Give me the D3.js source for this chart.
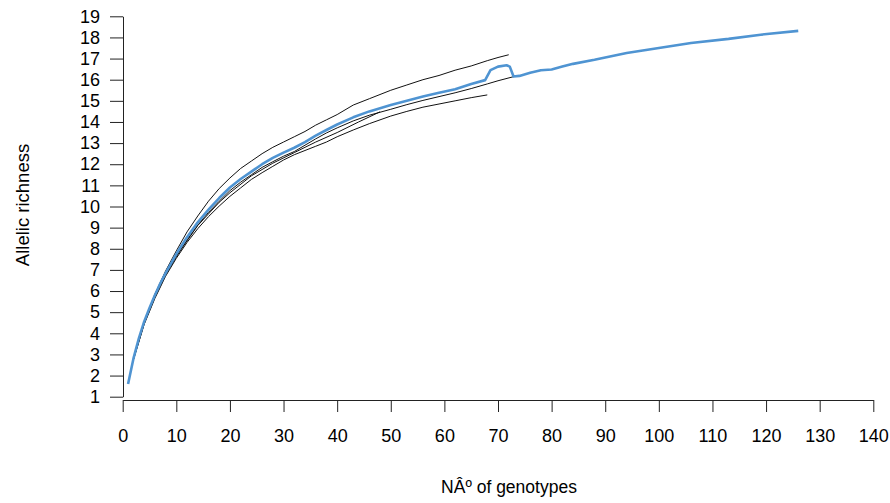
<!DOCTYPE html>
<html>
<head>
<meta charset="utf-8">
<script src="https://cdn.jsdelivr.net/npm/d3@7"></script>
<style>
  body { margin: 0; background: #fff; }
  text { font-family: "Liberation Sans", Arial, sans-serif; }
</style>
</head>
<body>
<div id="viz"></div>
<script>
const width = 890;
const height = 503;

// axis ticks
const xTicks = [0, 10, 20, 30, 40, 50, 60, 70, 80, 90, 100, 110, 120, 130, 140];
const yTicks = [1, 2, 3, 4, 5, 6, 7, 8, 9, 10, 11, 12, 13, 14, 15, 16, 17, 18, 19];

// pooled curve (blue)
const allN = [1, 2, 3, 4, 5, 6, 7, 8, 9, 10, 12, 14, 16, 18, 20, 22, 24, 26, 28, 30, 32, 34, 36, 38, 40, 43, 46, 50, 53, 56, 59, 62, 65, 67.6, 68.6, 70, 71.6, 72.2, 72.9, 74, 76, 78, 80, 82, 84, 88, 94, 100, 106, 113, 119, 126];
const allR = [1.6, 2.8, 3.75, 4.55, 5.2, 5.8, 6.35, 6.85, 7.3, 7.75, 8.55, 9.25, 9.85, 10.4, 10.9, 11.3, 11.65, 12.0, 12.3, 12.55, 12.78, 13.05, 13.35, 13.62, 13.88, 14.22, 14.5, 14.8, 15.0, 15.2, 15.38, 15.55, 15.8, 15.98, 16.45, 16.62, 16.68, 16.62, 16.15, 16.18, 16.33, 16.45, 16.48, 16.62, 16.75, 16.94, 17.26, 17.5, 17.74, 17.93, 18.13, 18.31];

// single populations (black)
const pop1N = [2, 4, 6, 8, 10, 12, 14, 16, 18, 20, 22, 24, 26, 28, 30, 32, 34, 36, 38, 40, 43, 46, 50, 53, 56, 59, 62, 65, 68, 70, 72];
const pop1R = [2.8, 4.55, 5.85, 6.95, 7.9, 8.8, 9.55, 10.25, 10.85, 11.35, 11.8, 12.15, 12.5, 12.8, 13.05, 13.3, 13.55, 13.85, 14.1, 14.35, 14.8, 15.1, 15.5, 15.75, 16.0, 16.2, 16.45, 16.65, 16.9, 17.05, 17.18];

const pop2N = [2, 4, 6, 8, 10, 12, 14, 16, 18, 20, 22, 24, 26, 28, 30, 32, 34, 36, 38, 40, 43, 46, 50, 53, 56, 59, 62, 65, 68, 70, 73];
const pop2R = [2.75, 4.45, 5.7, 6.75, 7.62, 8.42, 9.12, 9.72, 10.25, 10.75, 11.15, 11.5, 11.85, 12.12, 12.38, 12.6, 12.9, 13.2, 13.48, 13.72, 14.05, 14.32, 14.6, 14.82, 15.02, 15.2, 15.38, 15.58, 15.8, 15.95, 16.15];

const pop3N = [2, 4, 6, 8, 10, 12, 14, 16, 18, 20, 22, 24, 26, 28, 30, 32, 34, 36, 38, 40, 43, 46, 50, 53, 56, 59, 62, 65, 68];
const pop3R = [2.75, 4.42, 5.65, 6.7, 7.55, 8.3, 8.95, 9.52, 10.02, 10.48, 10.88, 11.28, 11.6, 11.9, 12.2, 12.45, 12.65, 12.85, 13.05, 13.3, 13.62, 13.92, 14.28, 14.5, 14.7, 14.85, 15.0, 15.15, 15.28];

const pop4N = [2, 4, 6, 8, 10, 14, 18, 20, 24, 28, 32, 36, 40, 44, 48];
const pop4R = [2.78, 4.5, 5.75, 6.8, 7.65, 9.1, 10.2, 10.65, 11.45, 12.05, 12.55, 13.05, 13.5, 14.0, 14.48];

const svg = d3.select('#viz')
  .append('svg')
    .attr('width', width)
    .attr('height', height);

const x = d3.scaleLinear().domain([0, 140]).range([122.7, 873.3]);
const y = d3.scaleLinear().domain([1, 19]).range([396.7, 16.3]);

const line = d3.line()
  .x(d => x(d[0]))
  .y(d => y(d[1]));

const pops = [[pop1N, pop1R], [pop2N, pop2R], [pop3N, pop3R], [pop4N, pop4R]];
pops.forEach(p => {
  svg.append('path')
    .datum(d3.zip(p[0], p[1]))
    .attr('fill', 'none')
    .attr('stroke', '#111')
    .attr('stroke-width', 1)
    .attr('d', line);
});

// blue pooled curve, drawn over the populations
svg.append('path')
  .datum(d3.zip(allN, allR))
  .attr('fill', 'none')
  .attr('stroke', '#4f94d2')
  .attr('stroke-width', 2.6)
  .attr('stroke-linejoin', 'round')
  .attr('d', line);

// axes
const yAxis = svg.append('g')
  .attr('transform', 'translate(123,0)')
  .call(d3.axisLeft(y).tickValues(yTicks).tickSize(13).tickSizeOuter(0).tickPadding(10));

const xAxis = svg.append('g')
  .attr('transform', 'translate(0,400)')
  .call(d3.axisBottom(x).tickValues(xTicks).tickSize(12).tickSizeOuter(0).tickPadding(17));

[yAxis, xAxis].forEach(g => {
  g.selectAll('text')
    .attr('font-size', 18)
    .attr('font-family', '"Liberation Sans", Arial, sans-serif')
    .attr('fill', '#000');
  g.selectAll('line').attr('stroke', '#222');
  g.select('.domain').attr('stroke', '#222');
});

svg.append('text')
  .attr('x', 509)
  .attr('y', 493)
  .attr('text-anchor', 'middle')
  .attr('font-size', 17.5)
  .text('NÂº of genotypes');

svg.append('text')
  .attr('transform', 'translate(29,205) rotate(-90)')
  .attr('text-anchor', 'middle')
  .attr('font-size', 18.5)
  .text('Allelic richness');
</script>
</body>
</html>
